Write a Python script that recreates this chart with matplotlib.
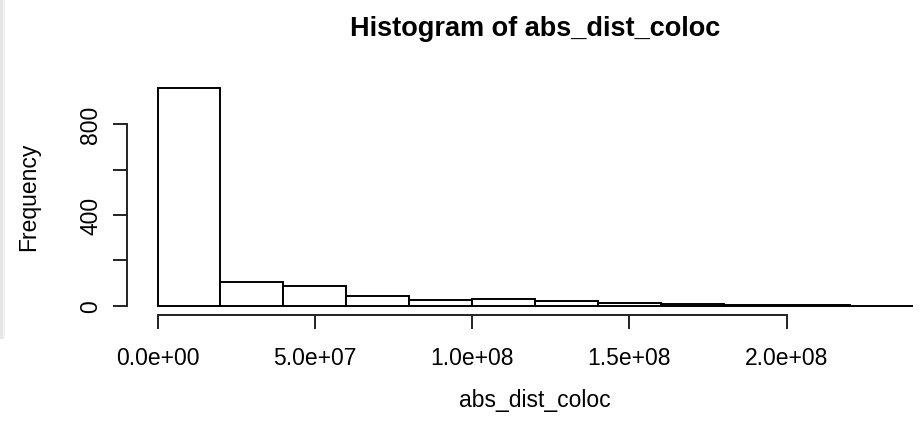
import numpy as np
import matplotlib
matplotlib.use("Agg")
import matplotlib.pyplot as plt
from matplotlib.patches import Rectangle

plt.rcParams['font.family'] = ['Liberation Sans', 'DejaVu Sans']

# Histogram counts for abs_dist_coloc, bins of width 2e7
bin_edges = [0, 2e7, 4e7, 6e7, 8e7, 1.0e8, 1.2e8, 1.4e8, 1.6e8, 1.8e8, 2.0e8, 2.2e8, 2.4e8]
counts = [957, 107, 85, 41, 26, 32, 22, 13, 7, 3, 2, 1]

x_ticks = [0, 5e7, 1e8, 1.5e8, 2e8]
x_tick_labels = ['0.0e+00', '5.0e+07', '1.0e+08', '1.5e+08', '2.0e+08']
y_ticks = [0, 200, 400, 600, 800]
y_tick_labels = ['0', '', '400', '', '800']

W, H = 922, 427
fig = plt.figure(figsize=(W / 100, H / 100), dpi=100)

# plot region in pixels (left, top, right, bottom)
pl, pt, pr, pb = 127.3, 80.0, 922.0, 315.5
ax = fig.add_axes([pl / W, 1 - pb / H, (pr - pl) / W, (pb - pt) / H])

lefts = np.array(bin_edges[:-1])
widths = np.diff(bin_edges)
ax.bar(lefts, counts, width=widths, align='edge', facecolor='white',
       edgecolor='black', linewidth=1.4)

# R-style limits: 4% padding around the data range
ax.set_xlim(-0.096e8, -0.096e8 + (pr - pl) / 157.3 * 5e7)
ymin = -38.3
ax.set_ylim(ymin, ymin + (pb - pt) / 0.2271)

for s in ['top', 'right']:
    ax.spines[s].set_visible(False)
ax.spines['left'].set_bounds(0, 800)
ax.spines['bottom'].set_bounds(0, 2e8)
for s in ['left', 'bottom']:
    ax.spines[s].set_linewidth(1.4)
    ax.spines[s].set_color('#222222')

ax.set_xticks(x_ticks)
ax.set_xticklabels(x_tick_labels, fontsize=16.5)
ax.set_yticks(y_ticks)
ax.set_yticklabels(y_tick_labels, fontsize=16.5, rotation=90, va='center')
ax.tick_params(direction='out', length=10, width=1.4, color='#222222')
ax.tick_params(axis='x', pad=13)
ax.tick_params(axis='y', pad=8)

def px(x, y):
    return x / W, 1 - y / H

fig.text(*px(535, 29), 'Histogram of abs_dist_coloc', fontsize=19.5,
         fontweight='bold', ha='center', va='center')
fig.text(*px(535, 401), 'abs_dist_coloc', fontsize=16.5, ha='center', va='center')
fig.text(*px(29, 197), 'Frequency', fontsize=16.5, rotation=90,
         ha='center', va='center')

# faint grey strip along the left edge
fig.patches.append(Rectangle((0, 1 - 340 / H), 2.5 / W, 340 / H,
                             transform=fig.transFigure, facecolor='#e6e6e6',
                             edgecolor='none'))
fig.patches.append(Rectangle((2.5 / W, 1 - 340 / H), 2.5 / W, 340 / H,
                             transform=fig.transFigure, facecolor='#f3f3f3',
                             edgecolor='none'))

fig.savefig('out.png', dpi=100)
